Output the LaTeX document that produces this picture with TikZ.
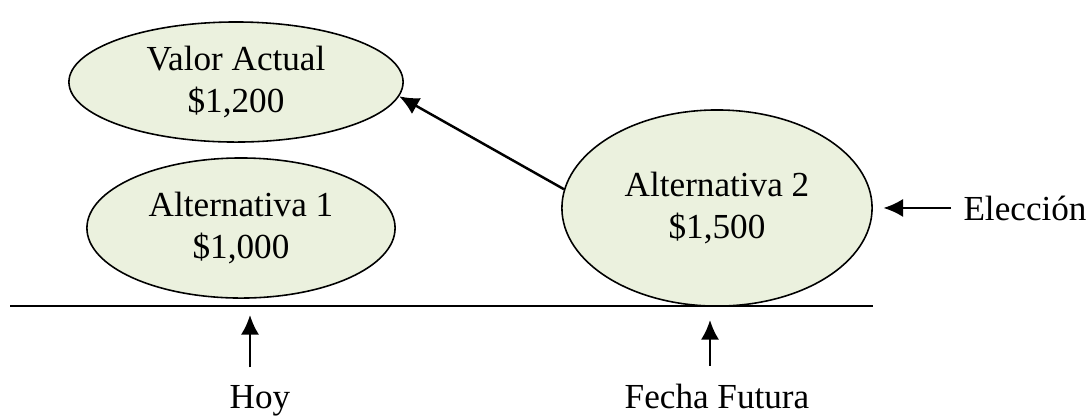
\documentclass[tikz,border=0pt]{standalone}
\usepackage{fontspec}
\setmainfont{Liberation Serif}
\usepackage{tikz}
\usetikzlibrary{shapes.geometric,arrows.meta}
\definecolor{ovalfill}{rgb}{0.92,0.945,0.87}
\tikzset{
  oval/.style={ellipse, draw, line width=0.45pt, fill=ovalfill, inner sep=0pt, align=center, font=\fontsize{10}{12}\selectfont},
  lbl/.style={anchor=base, font=\fontsize{10}{12}\selectfont},
  arr/.style={line width=0.7pt, -{Latex[length=5.6pt,width=5.2pt]}}
}
\begin{document}
\begin{tikzpicture}[x=0.01cm,y=-0.01cm]
\useasboundingbox (0,0) rectangle (1091,417);
\node[oval, minimum width=3.34cm, minimum height=1.2cm] (valor) at (236,82) {Valor Actual\\\$1,200};
\node[oval, minimum width=3.08cm, minimum height=1.4cm] (alt1) at (241,228) {Alternativa 1\\\$1,000};
\node[oval, minimum width=3.1cm, minimum height=1.96cm] (alt2) at (717,208) {Alternativa 2\\\$1,500};
\draw[line width=0.65pt] (10,306) -- (873,306);
\node[lbl] (hoy) at (260,408) {Hoy};
\node[lbl] (fecha) at (717,408) {Fecha Futura};
\node[lbl] (eleccion) at (1025,220) {Elección};
\coordinate (hoytip) at (250,315);
\coordinate (fechatip) at (710,320);
\draw[arr, shorten <=1.5pt] (hoytip |- hoy.north) -- (hoytip);
\draw[arr, shorten <=1.5pt] (fechatip |- fecha.north) -- (fechatip);
\draw[arr, shorten >=3pt] (eleccion.west) -- (eleccion.west -| alt2.east);
\draw[arr] (alt2.173) -- (valor.-5);
\end{tikzpicture}
\end{document}
